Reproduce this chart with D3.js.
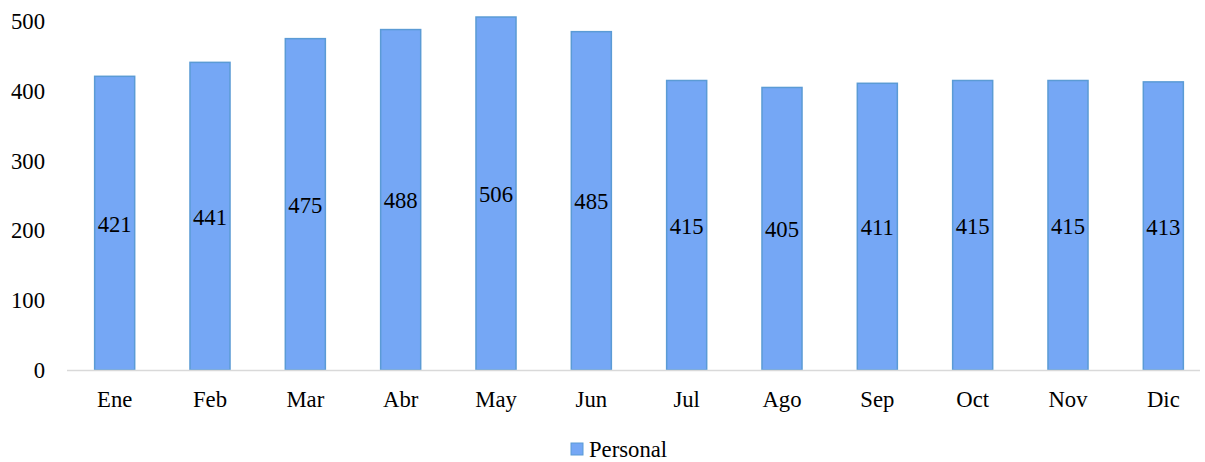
<!DOCTYPE html>
<html lang="en">
	<head>
		<meta charset="utf-8">
		<script type="text/javascript" src="https://d3js.org/d3.v7.min.js"></script>
		<style type="text/css">
			body { margin: 0; background: #fff; }
		</style>
	</head>
	<body>
		<script type="text/javascript">

			//Width and height
			var w = 1205;
			var h = 462;
			var font = "'Liberation Serif', 'Times New Roman', serif";
			var fontSize = "22.7px";

			//Data
			var months = ["Ene", "Feb", "Mar", "Abr", "May", "Jun", "Jul", "Ago", "Sep", "Oct", "Nov", "Dic"];
			var personal = [421, 441, 475, 488, 506, 485, 415, 405, 411, 415, 415, 413];
			var yTicks = [0, 100, 200, 300, 400, 500];
			var seriesName = "Personal";

			var barFill = "#75a7f5";
			var barStroke = "#5b9bd5";

			var svg = d3.select("body")
						.append("svg")
						.attr("width", w)
						.attr("height", h)
						.style("font-family", font);

			var xScale = d3.scaleBand()
						   .domain(months)
						   .range([67, 1211])
						   .paddingInner(0.58)
						   .paddingOuter(0.29);

			var yScale = d3.scaleLinear()
						   .domain([0, 500])
						   .range([370, 21.2]);

			//Y axis labels (no line, no ticks)
			var yAxis = d3.axisLeft(yScale)
						  .tickValues(yTicks)
						  .tickSize(0)
						  .tickPadding(0);

			var gy = svg.append("g")
						.attr("transform", "translate(45,0)")
						.call(yAxis);
			gy.select(".domain").remove();
			gy.selectAll("text")
			  .style("font-family", font)
			  .style("font-size", fontSize)
			  .attr("fill", "#000")
			  .attr("dy", "0.33em");

			//Bars
			svg.selectAll("rect.bar")
			   .data(personal)
			   .enter()
			   .append("rect")
			   .attr("class", "bar")
			   .attr("x", function(d, i) { return xScale(months[i]); })
			   .attr("y", function(d) { return yScale(d); })
			   .attr("width", xScale.bandwidth())
			   .attr("height", function(d) { return yScale(0) - yScale(d); })
			   .attr("fill", barFill)
			   .attr("stroke", barStroke)
			   .attr("stroke-width", 1.5);

			//X axis line
			svg.append("line")
			   .attr("x1", 67)
			   .attr("x2", 1200)
			   .attr("y1", yScale(0) + 0.5)
			   .attr("y2", yScale(0) + 0.5)
			   .attr("stroke", "#d9d9d9")
			   .attr("stroke-width", 1.5);

			//X axis labels
			var xAxis = d3.axisBottom(xScale)
						  .tickSize(0)
						  .tickPadding(0);

			var gx = svg.append("g")
						.attr("transform", "translate(0," + (yScale(0) + 29) + ")")
						.call(xAxis);
			gx.select(".domain").remove();
			gx.selectAll("text")
			  .style("font-family", font)
			  .style("font-size", fontSize)
			  .attr("fill", "#000")
			  .attr("dy", "0.33em");

			//Value labels at mid bar
			svg.selectAll("text.val")
			   .data(personal)
			   .enter()
			   .append("text")
			   .attr("class", "val")
			   .attr("x", function(d, i) { return xScale(months[i]) + xScale.bandwidth() / 2; })
			   .attr("y", function(d) { return yScale(d / 2); })
			   .attr("dy", "0.38em")
			   .attr("text-anchor", "middle")
			   .style("font-family", font)
			   .style("font-size", fontSize)
			   .text(function(d) { return d; });

			//Legend
			var legend = svg.append("g")
							.attr("transform", "translate(571,443)");
			legend.append("rect")
				  .attr("width", 12)
				  .attr("height", 12)
				  .attr("fill", barFill)
				  .attr("stroke", barStroke)
				  .attr("stroke-width", 1);
			legend.append("text")
				  .attr("x", 18)
				  .attr("y", 14)
				  .style("font-family", font)
				  .style("font-size", fontSize)
				  .text(seriesName);

		</script>
	</body>
</html>
